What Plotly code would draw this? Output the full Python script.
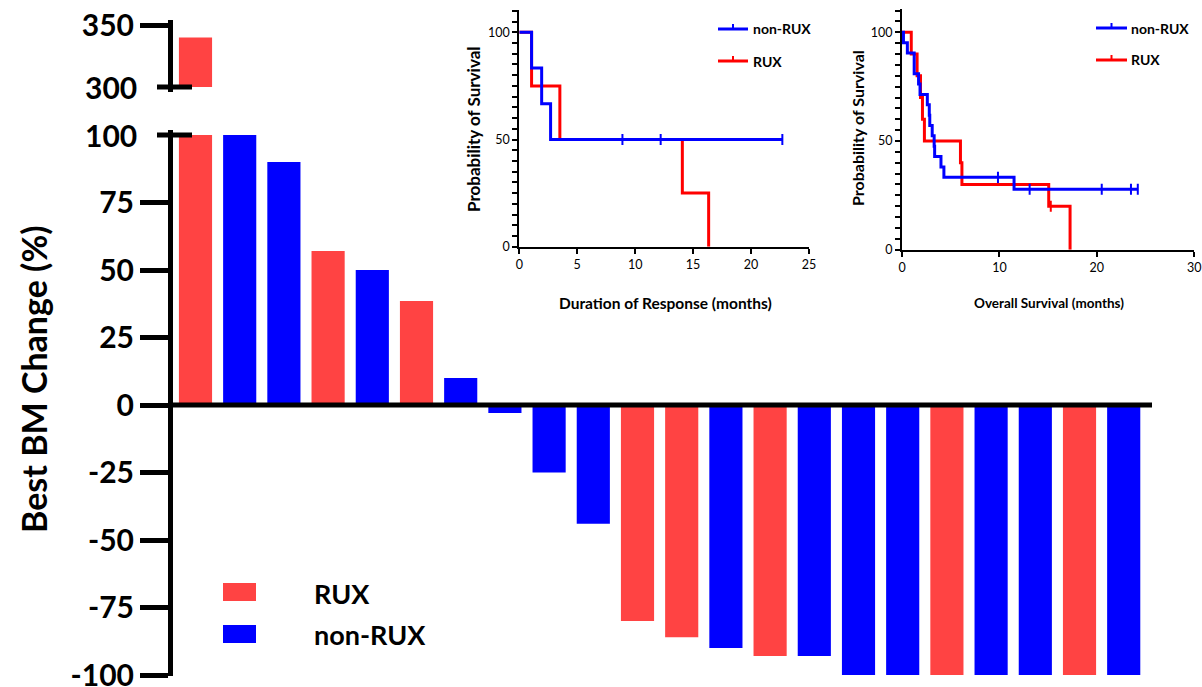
import numpy as np
import plotly.graph_objects as go

W, H = 1202, 687
def px(x): return x / W
def py(y): return 1 - y / H

# ---------------- data ----------------
patients = list(range(22))
bm_change = [340, 100, 90, 57, 50, 38.5, 10, -3, -25, -44, -80, -86, -90, -93, -93,
             -100, -100, -100, -100, -100, -100, -100]
group = ["RUX", "non-RUX", "non-RUX", "RUX", "non-RUX", "RUX", "non-RUX", "non-RUX",
         "non-RUX", "non-RUX", "RUX", "RUX", "non-RUX", "RUX", "non-RUX", "non-RUX",
         "non-RUX", "RUX", "non-RUX", "non-RUX", "RUX", "non-RUX"]
main_ticks = [-100, -75, -50, -25, 0, 25, 50, 75]

# Duration of response (KM step points)
dor_nonrux_t = [0, 1.06, 1.93, 2.7, 22.7]
dor_nonrux_s = [100, 83.3, 66.7, 50, 50]
dor_nonrux_cens_t = [8.9, 12.2, 22.7]
dor_nonrux_cens_s = [50, 50, 50]
dor_rux_t = [0, 1.06, 3.5, 14.07, 16.34]
dor_rux_s = [100, 75, 50, 25, 0]

# Overall survival (KM step points)
os_nonrux_t = [0, 0.15, 0.55, 1.25, 1.7, 1.85, 2.6, 2.8, 2.85, 3.1, 3.3, 3.35, 4.0, 4.3, 11.5, 24.2]
os_nonrux_s = [100, 95.2, 90.5, 81.0, 76.2, 71.4, 66.7, 61.9, 57.1, 52.4, 47.6, 42.9, 38.1, 33.3, 27.8, 27.8]
os_nonrux_cens_t = [9.85, 13.1, 20.5, 23.5, 24.2]
os_nonrux_cens_s = [33.3, 27.8, 27.8, 27.8, 27.8]
os_rux_t = [0, 0.95, 1.55, 1.9, 2.1, 2.3, 6.0, 6.15, 15.06, 17.25]
os_rux_s = [100, 90, 80, 70, 60, 50, 40, 30, 20, 0]
os_rux_cens_t = [15.27]
os_rux_cens_s = [20]

BAR_COL = {"RUX": "#FF4343", "non-RUX": "#0000FF"}
KM_BLUE = "#0000FF"
KM_RED = "#FF0000"
FONT = "Lato"

bm = np.array(bm_change, dtype=float)
cols = [BAR_COL[g] for g in group]

fig = go.Figure()

# lower segment bars (clipped at break)
fig.add_trace(go.Bar(x=patients, y=np.minimum(bm, 100), marker=dict(color=cols, line_width=0),
                     xaxis="x", yaxis="y", showlegend=False))
# upper segment bars (above the break)
hi = bm > 100
fig.add_trace(go.Bar(x=np.array(patients)[hi], y=bm[hi] - 300, base=300,
                     marker=dict(color=np.array(cols)[hi].tolist(), line_width=0),
                     xaxis="x2", yaxis="y2", showlegend=False))

# inset 1: DOR
fig.add_trace(go.Scatter(x=dor_rux_t, y=dor_rux_s, mode="lines", line=dict(color=KM_RED, width=3, shape="hv"),
                         xaxis="x3", yaxis="y3", showlegend=False))
fig.add_trace(go.Scatter(x=dor_nonrux_t, y=dor_nonrux_s, mode="lines", line=dict(color=KM_BLUE, width=3, shape="hv"),
                         xaxis="x3", yaxis="y3", showlegend=False))
fig.add_trace(go.Scatter(x=dor_nonrux_cens_t, y=dor_nonrux_cens_s, mode="markers",
                         marker=dict(symbol="line-ns", size=8, line=dict(color=KM_BLUE, width=2)),
                         xaxis="x3", yaxis="y3", showlegend=False))

# inset 2: OS
fig.add_trace(go.Scatter(x=os_rux_t, y=os_rux_s, mode="lines", line=dict(color=KM_RED, width=3, shape="hv"),
                         xaxis="x4", yaxis="y4", showlegend=False))
fig.add_trace(go.Scatter(x=os_rux_cens_t, y=os_rux_cens_s, mode="markers",
                         marker=dict(symbol="line-ns", size=8, line=dict(color=KM_RED, width=2)),
                         xaxis="x4", yaxis="y4", showlegend=False))
fig.add_trace(go.Scatter(x=os_nonrux_t, y=os_nonrux_s, mode="lines", line=dict(color=KM_BLUE, width=3, shape="hv"),
                         xaxis="x4", yaxis="y4", showlegend=False))
fig.add_trace(go.Scatter(x=os_nonrux_cens_t, y=os_nonrux_cens_s, mode="markers",
                         marker=dict(symbol="line-ns", size=8, line=dict(color=KM_BLUE, width=2)),
                         xaxis="x4", yaxis="y4", showlegend=False))

big_tick_font = dict(family=FONT, size=30, color="black", weight="bold")
small_tick_font = dict(family=FONT, size=12.5, color="black")

xr = [-0.509, 21.64]
common_small = dict(showline=True, linewidth=2, linecolor="black", ticks="outside", ticklen=5,
                    tickwidth=1.5, tickcolor="black", tickfont=small_tick_font, showgrid=False,
                    zeroline=False, automargin=False, ticklabeloverflow="allow")
fig.update_layout(
    width=W, height=H, margin=dict(l=0, r=0, t=0, b=0, pad=0, autoexpand=False),
    paper_bgcolor="white", plot_bgcolor="white", bargap=0.25, showlegend=False,
    xaxis=dict(domain=[px(173), px(1152)], range=xr, visible=False, anchor="y", automargin=False),
    xaxis2=dict(domain=[px(173), px(1152)], range=xr, visible=False, anchor="y2", matches="x", automargin=False),
    yaxis=dict(domain=[py(675.5), py(130)], range=[-100.185, 101.85], anchor="x", automargin=False,
               ticklabeloverflow="allow",
               showline=True, linewidth=5, linecolor="black", ticks="outside", ticklen=28,
               tickwidth=5, tickcolor="black", tickvals=main_ticks, ticktext=[str(v) for v in main_ticks],
               tickfont=big_tick_font, showgrid=False, zeroline=False),
    yaxis2=dict(domain=[py(92), py(20)], range=[295.97, 354.03], anchor="x2", automargin=False,
                ticklabeloverflow="allow",
                showline=True, linewidth=5, linecolor="black", ticks="outside", ticklen=28,
                tickwidth=5, tickcolor="black", tickvals=[350], ticktext=["350"],
                tickfont=big_tick_font, showgrid=False, zeroline=False),
    xaxis3=dict(domain=[px(519.3), px(809)], range=[0, 25], anchor="y3", dtick=5, tick0=0, **common_small),
    yaxis3=dict(domain=[py(246.7), py(10)], range=[0, 110.4], anchor="x3", tickvals=[0, 50, 100],
                minor=dict(dtick=5, tick0=0, ticks="outside", ticklen=5, tickwidth=1.5, tickcolor="black"),
                **common_small),
    xaxis4=dict(domain=[px(902), px(1194.3)], range=[0, 30], anchor="y4", dtick=10, tick0=0, **common_small),
    yaxis4=dict(domain=[py(249.7), py(9.3)], range=[0, 110.6], anchor="x4", tickvals=[0, 50, 100],
                minor=dict(dtick=5, tick0=0, ticks="outside", ticklen=5, tickwidth=1.5, tickcolor="black"),
                **common_small),
)

shapes = []
# zero line of the waterfall
shapes.append(dict(type="line", xref="x domain", yref="y", x0=0, x1=1, y0=0, y1=0,
                   line=dict(color="black", width=5)))
# axis break marks
shapes.append(dict(type="line", xref="paper", yref="y", x0=px(157), x1=px(192), y0=100, y1=100,
                   line=dict(color="black", width=5)))
shapes.append(dict(type="line", xref="paper", yref="y2", x0=px(157), x1=px(192), y0=300, y1=300,
                   line=dict(color="black", width=5)))
# main legend swatches
shapes.append(dict(type="rect", xref="paper", yref="paper", x0=px(223), x1=px(256), y0=py(601), y1=py(583),
                   fillcolor=BAR_COL["RUX"], line_width=0))
shapes.append(dict(type="rect", xref="paper", yref="paper", x0=px(223), x1=px(256), y0=py(643), y1=py(625),
                   fillcolor=BAR_COL["non-RUX"], line_width=0))
# inset legends (line with censor tick)
for (x0, x1, yb, yr) in [(718, 748, 29, 61), (1096, 1127, 28, 60)]:
    shapes.append(dict(type="line", xref="paper", yref="paper", x0=px(x0), x1=px(x1), y0=py(yb), y1=py(yb),
                       line=dict(color=KM_BLUE, width=3)))
    shapes.append(dict(type="line", xref="paper", yref="paper", x0=px((x0 + x1) / 2), x1=px((x0 + x1) / 2),
                       y0=py(yb), y1=py(yb - 5), line=dict(color=KM_BLUE, width=2)))
    shapes.append(dict(type="line", xref="paper", yref="paper", x0=px(x0), x1=px(x1), y0=py(yr), y1=py(yr),
                       line=dict(color=KM_RED, width=3)))
    shapes.append(dict(type="line", xref="paper", yref="paper", x0=px((x0 + x1) / 2), x1=px((x0 + x1) / 2),
                       y0=py(yr), y1=py(yr - 5), line=dict(color=KM_RED, width=2)))
fig.update_layout(shapes=shapes)

ann = []
def text(x, y, s, size, bold=True, xanchor="center", yanchor="middle", angle=0, xref="paper", yref="paper"):
    ann.append(dict(x=x, y=y, xref=xref, yref=yref, text=s, showarrow=False, xanchor=xanchor,
                    yanchor=yanchor, textangle=angle,
                    font=dict(family=FONT, size=size, color="black", weight="bold" if bold else "normal")))

# break labels
text(px(139), 100, "100", 30, xanchor="right", yref="y")
text(px(139), 300, "300", 30, xanchor="right", yref="y2")
# main title
text(px(33), py(379), "Best BM Change (%)", 34, angle=-90)
# main legend text
text(px(312), py(593), "RUX", 27, xanchor="left")
text(px(312), py(634), "non-RUX", 27, xanchor="left")
# inset titles
text(px(473), py(129), "Probability of Survival", 17, angle=-90)
text(px(665), py(303), "Duration of Response (months)", 15.5)
text(px(857), py(128), "Probability of Survival", 16, angle=-90)
text(px(1049), py(303), "Overall Survival (months)", 13.5)
# inset legend texts
text(px(751), py(29), "non-RUX", 14, xanchor="left")
text(px(751), py(61), "RUX", 14, xanchor="left")
text(px(1129), py(28), "non-RUX", 14, xanchor="left")
text(px(1129), py(60), "RUX", 14, xanchor="left")
fig.update_layout(annotations=ann)

fig.write_html("out.html")
